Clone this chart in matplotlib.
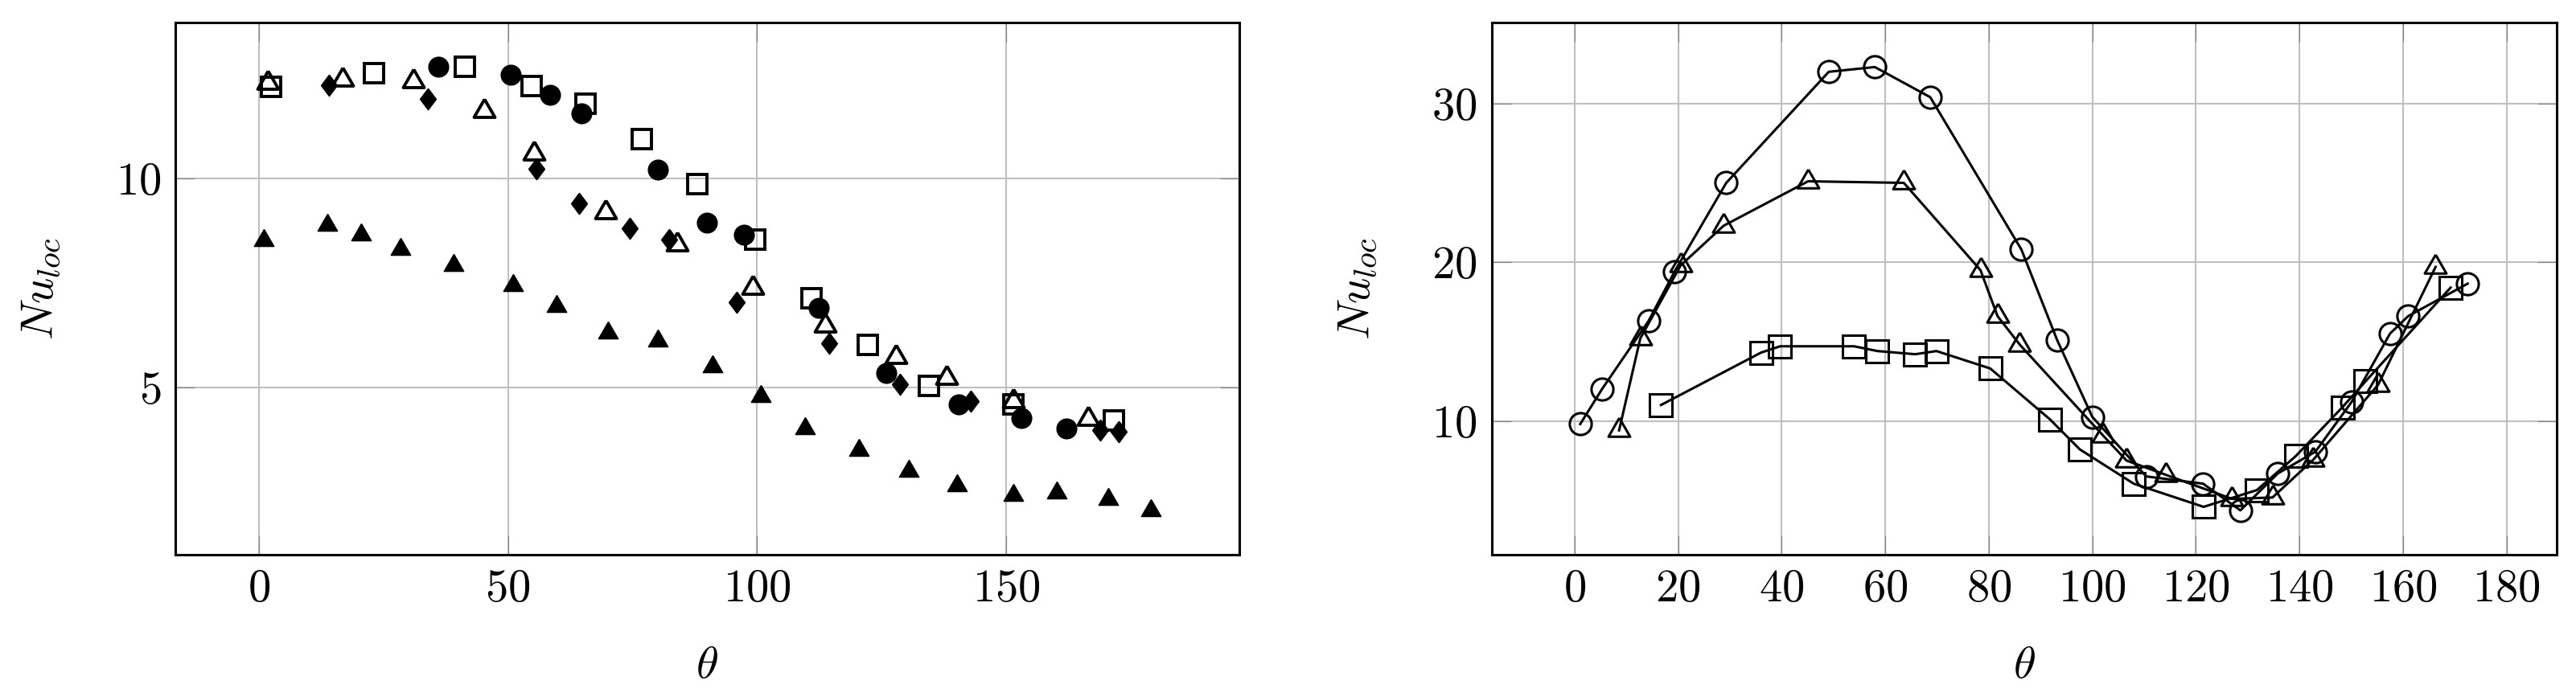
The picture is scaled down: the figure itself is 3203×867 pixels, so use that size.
import numpy as np
import matplotlib
matplotlib.use("Agg")
import matplotlib.pyplot as plt

plt.rcParams.update({
    "font.family": "serif",
    "font.serif": ["cmr10"],
    "mathtext.fontset": "cm",
    "axes.formatter.use_mathtext": True,
    "font.size": 10.2,
})

# ---- left panel: scattered measurements ----
tri_f_x = [1, 13.7, 20.6, 28.5, 39.1, 51.1, 59.7, 70.1, 80.1, 91.0, 100.7, 109.6, 120.5, 130.4, 140.1, 151.5, 160.1, 170.5, 179.0]
tri_f_y = [8.51, 8.88, 8.65, 8.30, 7.93, 7.45, 6.94, 6.31, 6.12, 5.51, 4.79, 4.02, 3.51, 3.00, 2.66, 2.43, 2.49, 2.34, 2.07]

tri_o_x = [1.8, 16.8, 31.0, 45.2, 55.2, 69.6, 83.9, 99.1, 113.6, 127.9, 138.0, 151.5, 166.5]
tri_o_y = [12.29, 12.36, 12.32, 11.62, 10.59, 9.20, 8.43, 7.39, 6.49, 5.74, 5.23, 4.68, 4.26]

sq_x = [2.5, 23.1, 41.4, 54.7, 65.6, 76.8, 88.0, 99.6, 110.9, 122.2, 134.5, 151.5, 171.6]
sq_y = [12.18, 12.52, 12.66, 12.21, 11.78, 10.94, 9.86, 8.53, 7.13, 6.03, 5.05, 4.60, 4.22]

circ_x = [36.1, 50.6, 58.5, 64.8, 80.1, 90.0, 97.3, 112.4, 126.0, 140.5, 153.0, 162.1]
circ_y = [12.66, 12.47, 12.00, 11.55, 10.21, 8.94, 8.65, 6.91, 5.35, 4.60, 4.28, 4.02]

dia_x = [14.0, 34.0, 55.7, 64.3, 74.5, 82.4, 95.9, 114.4, 128.7, 142.9, 168.8, 172.6]
dia_y = [12.23, 11.89, 10.23, 9.41, 8.80, 8.54, 7.04, 6.06, 5.09, 4.68, 3.98, 3.94]

# ---- right panel: connected series ----
r_circ_x = [1.1, 5.3, 14.3, 19.3, 29.3, 49.1, 58.0, 68.7, 86.3, 93.2, 100.0, 110.4, 121.4, 128.6, 135.8, 143.1, 150.1, 157.5, 161.0, 172.5]
r_circ_y = [9.8, 12.0, 16.3, 19.4, 25.0, 32.0, 32.3, 30.4, 20.8, 15.1, 10.25, 6.5, 6.04, 4.36, 6.68, 8.06, 11.2, 15.5, 16.6, 18.65]

r_tri_x = [8.6, 12.7, 20.5, 28.8, 45.1, 63.6, 78.4, 81.7, 86.0, 102.1, 106.6, 114.2, 127.0, 134.8, 142.7, 155.2, 166.3]
r_tri_y = [9.4, 15.2, 19.8, 22.3, 25.1, 25.0, 19.5, 16.6, 14.8, 9.07, 7.5, 6.6, 5.08, 5.17, 7.56, 12.27, 19.7]

r_sq_x = [16.7, 36.0, 39.7, 54.0, 58.5, 65.8, 69.9, 80.3, 91.8, 97.6, 108.0, 121.5, 131.8, 139.3, 148.3, 152.8, 169.2]
r_sq_y = [11.0, 14.3, 14.7, 14.7, 14.4, 14.2, 14.4, 13.3, 10.1, 8.2, 6.04, 4.58, 5.64, 7.78, 10.86, 12.5, 18.4]

left_xticks = [0, 50, 100, 150]
left_yticks = [5, 10]
right_xticks = list(range(0, 181, 20))
right_yticks = [10, 20, 30]

# pgfplots-like marks
tri_mark = [(0, 1), (-0.866, -0.5), (0.866, -0.5), (0, 1)]
dia_mark = [(0, 1), (0.75, 0), (0, -1), (-0.75, 0), (0, 1)]

fig = plt.figure(figsize=(3203 / 400, 867 / 400), dpi=400)
ax1 = fig.add_axes([0.0680, 0.2042, 0.4131, 0.7632])
ax2 = fig.add_axes([0.5790, 0.2042, 0.4134, 0.7632])

ax1.plot(tri_f_x, tri_f_y, ls="none", marker=tri_mark, ms=5.0, mfc="k", mec="k", mew=0.3)
ax1.plot(sq_x, sq_y, ls="none", marker="s", ms=4.3, mfc="none", mec="k", mew=0.7)
ax1.plot(dia_x, dia_y, ls="none", marker=dia_mark, ms=4.7, mfc="k", mec="k", mew=0.3)
ax1.plot(tri_o_x, tri_o_y, ls="none", marker=tri_mark, ms=5.4, mfc="none", mec="k", mew=0.7)
ax1.plot(circ_x, circ_y, ls="none", marker="o", ms=4.4, mfc="k", mec="k", mew=0.3)

ax2.plot(r_sq_x, r_sq_y, color="k", lw=0.55, marker="s", ms=5.0, mfc="none", mec="k", mew=0.55)
ax2.plot(r_tri_x, r_tri_y, color="k", lw=0.55, marker=tri_mark, ms=5.6, mfc="none", mec="k", mew=0.55)
ax2.plot(r_circ_x, r_circ_y, color="k", lw=0.55, marker="o", ms=4.9, mfc="none", mec="k", mew=0.55)

ax1.set_xticks(left_xticks)
ax1.set_yticks(left_yticks)
ax2.set_xticks(right_xticks)
ax2.set_yticks(right_yticks)

for ax in (ax1, ax2):
    ax.margins(0.1)
    ax.grid(True, color="#c0c0c0", lw=0.38)
    ax.set_axisbelow(True)
    ax.tick_params(direction="in", length=4.3, width=0.2, color="#808080",
                   top=True, right=True, pad=3.2, labelsize=10.2)
    for sp in ax.spines.values():
        sp.set_linewidth(0.55)
    ax.set_xlabel(r"$\theta$", fontsize=10.2, labelpad=8)
    ax.set_ylabel(r"$Nu_{loc}$", fontsize=10.2, labelpad=12)

fig.savefig("out.png", dpi=400)
